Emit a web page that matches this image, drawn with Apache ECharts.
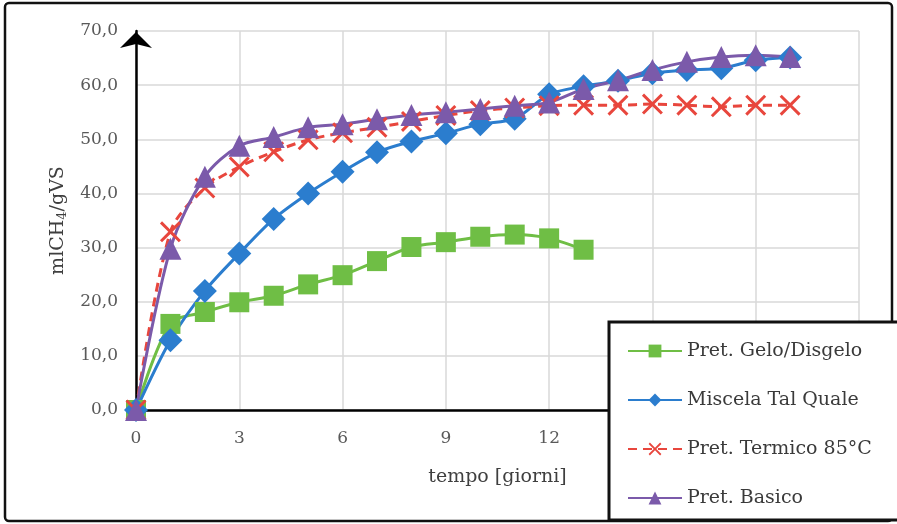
<!DOCTYPE html>
<html>
<head>
<meta charset="utf-8">
<script src="https://cdn.jsdelivr.net/npm/echarts@6/dist/echarts.min.js"></script>
<style>
  html, body { margin: 0; padding: 0; background: #ffffff; }
  #chart { width: 897px; height: 524px; }
</style>
</head>
<body>
<div id="chart"></div>
<script>
// giorni di digestione
var giorni = [0, 1, 2, 3, 4, 5, 6, 7, 8, 9, 10, 11, 12, 13, 14, 15, 16, 17, 18, 19];
var xTicks = [0, 3, 6, 9, 12, 15, 18, 21];
var yTicks = [0, 10, 20, 30, 40, 50, 60, 70];

var nomiSerie = ["Pret. Gelo/Disgelo", "Miscela Tal Quale", "Pret. Termico 85°C", "Pret. Basico"];

// mlCH4/gVS
var geloDisgelo = [0, 15.9, 18.1, 19.9, 21.1, 23.2, 24.9, 27.5, 30.1, 31.0, 32.0, 32.4, 31.7, 29.6];
var talQuale = [0, 12.9, 22.0, 28.9, 35.3, 40.0, 44.0, 47.6, 49.6, 51.1, 52.8, 53.8, 58.3, 59.8, 60.8, 62.2, 62.8, 63.1, 64.6, 65.1];
var termico85 = [0, 32.9, 41.0, 44.9, 47.7, 49.9, 51.2, 52.2, 53.3, 54.4, 55.3, 55.8, 56.2, 56.3, 56.3, 56.5, 56.3, 56.0, 56.3, 56.3];
var basico = [0, 29.8, 43.1, 48.8, 50.4, 52.2, 52.8, 53.7, 54.5, 55.0, 55.6, 56.2, 56.8, 59.3, 60.9, 62.8, 64.3, 65.2, 65.5, 65.2];

function coppie(vals) {
  return vals.map(function (v, i) { return [giorni[i], v]; });
}

// croce piena per il marker "X"
var crocePath = "path://M0,1 L1,0 L5,4 L9,0 L10,1 L6,5 L10,9 L9,10 L5,6 L1,10 L0,9 L4,5 Z";

var serifFont = "'DejaVu Serif', 'Liberation Serif', serif";
var myChart = echarts.init(document.getElementById("chart"));

var option = {
  backgroundColor: "#ffffff",
  animation: false,
  grid: { left: 136, right: 38, top: 31, bottom: 114 },
  graphic: [
    {
      type: "rect",
      z: -1,
      shape: { x: 5, y: 3, width: 887, height: 518, r: 4 },
      style: { fill: "none", stroke: "#111111", lineWidth: 2.5 }
    },
    {
      type: "rect",
      z: 50,
      shape: { x: 609, y: 322, width: 300, height: 198 },
      style: { fill: "#ffffff", stroke: "#111111", lineWidth: 3 }
    }
  ],
  legend: {
    z: 60,
    orient: "vertical",
    left: 610,
    top: 323,
    padding: [17, 10, 10, 17],
    itemGap: 27,
    itemWidth: 54,
    itemHeight: 16,
    data: nomiSerie,
    textStyle: { fontFamily: serifFont, fontSize: 19, color: "#3a3a3a", lineHeight: 22 }
  },
  xAxis: {
    type: "value",
    min: 0,
    max: 21,
    interval: 3,
    name: "tempo [giorni]",
    nameLocation: "middle",
    nameGap: 58,
    nameTextStyle: { fontFamily: serifFont, fontSize: 19, color: "#3f3f3f" },
    axisLine: { lineStyle: { color: "#000000", width: 2.5 } },
    axisTick: { show: false },
    axisLabel: {
      margin: 20,
      fontFamily: serifFont,
      fontSize: 17,
      color: "#595959",
      formatter: function (v) { return xTicks.indexOf(v) >= 0 ? String(v) : ""; }
    },
    splitLine: { show: true, lineStyle: { color: "#d9d9d9", width: 1.5 } }
  },
  yAxis: {
    type: "value",
    min: 0,
    max: 70,
    interval: 10,
    name: "{a|mlCH}{s|4}{a|/gVS}",
    nameLocation: "middle",
    nameGap: 64,
    nameRotate: 90,
    nameTextStyle: {
      rich: {
        a: { fontFamily: serifFont, fontSize: 19, color: "#3f3f3f" },
        s: { fontFamily: serifFont, fontSize: 13, color: "#3f3f3f", padding: [9, 0, 0, 0] }
      }
    },
    axisLine: {
      show: true,
      symbol: ["none", "arrow"],
      symbolSize: [24, 16],
      symbolOffset: [0, -1],
      lineStyle: { color: "#000000", width: 2.5 }
    },
    axisTick: { show: false },
    axisLabel: {
      margin: 18,
      fontFamily: serifFont,
      fontSize: 17,
      color: "#595959",
      formatter: function (v) { return yTicks.indexOf(v) >= 0 ? v.toFixed(1).replace(".", ",") : ""; }
    },
    splitLine: { show: true, lineStyle: { color: "#d9d9d9", width: 1.5 } }
  },
  series: [
    {
      name: nomiSerie[0],
      type: "line",
      smooth: 0.3,
      data: coppie(geloDisgelo),
      symbol: "rect",
      symbolSize: 20,
      itemStyle: { color: "#6fbe45" },
      lineStyle: { color: "#6fbe45", width: 3 }
    },
    {
      name: nomiSerie[1],
      type: "line",
      smooth: 0.3,
      data: coppie(talQuale),
      symbol: "diamond",
      symbolSize: 24,
      itemStyle: { color: "#2b7dce" },
      lineStyle: { color: "#2b7dce", width: 3 }
    },
    {
      name: nomiSerie[2],
      type: "line",
      smooth: 0.3,
      data: coppie(termico85),
      symbol: crocePath,
      symbolSize: 21,
      itemStyle: { color: "#e8463d" },
      lineStyle: { color: "#e8463d", width: 3, type: [9, 6] }
    },
    {
      name: nomiSerie[3],
      type: "line",
      smooth: 0.3,
      data: coppie(basico),
      symbol: "triangle",
      symbolSize: 22,
      itemStyle: { color: "#7b5aaa" },
      lineStyle: { color: "#7b5aaa", width: 3 }
    }
  ]
};

myChart.setOption(option);
window.addEventListener("resize", function () {
  myChart.resize();
});
</script>
</body>
</html>
